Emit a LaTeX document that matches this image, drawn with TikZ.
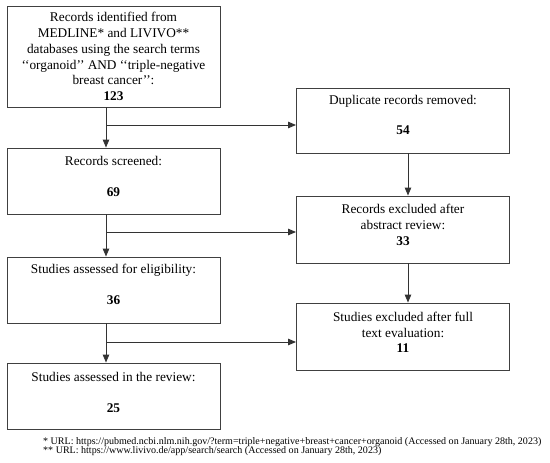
\documentclass[tikz,border=0pt]{standalone}
\usepackage{fontspec}
\setmainfont{Liberation Serif}
\usetikzlibrary{arrows.meta}
\newcommand{\dn}[1]{\rule[-#1]{0pt}{#1}}
\begin{document}
\begin{tikzpicture}[x=1pt,y=-1pt,
  box/.style={draw=black!75, line width=0.9pt, rectangle, minimum width=213pt, align=center, inner sep=0pt,
    font=\fontsize{13.3}{15.8}\selectfont},
  conn/.style={draw=black!80, line width=0.9pt},
  arr/.style={conn, -{Triangle[length=8pt,width=6.5pt]}},
  foot/.style={anchor=west, inner sep=0pt, font=\fontsize{10.05}{9.4}\selectfont, align=left}]
\useasboundingbox (0,0) rectangle (550,463);
\node[box, minimum height=101pt] (rec) at (113.5,56.5)
  {Records identified from\\MEDLINE* and LIVIVO**\\databases using the search terms\\`{}`organoid'{}' AND `{}`triple-negative\\breast cancer'{}':\\\textbf{123}};
\node[box, minimum height=65pt] (dup) at (403,120.5)
  {Duplicate records removed:\\[14pt]\textbf{54}\dn{11pt}};
\node[box, minimum height=66pt] (scr) at (113.5,181)
  {Records screened:\\[15pt]\textbf{69}\dn{9pt}};
\node[box, minimum height=67pt] (exa) at (403,229.5)
  {Records excluded after\\abstract review:\\\textbf{33}\dn{9pt}};
\node[box, minimum height=66pt] (eli) at (113.5,290)
  {Studies assessed for eligibility:\\[15pt]\textbf{36}\dn{11pt}};
\node[box, minimum height=67pt] (exf) at (403,336.5)
  {Studies excluded after full\\text evaluation:\\\textbf{11}\dn{8pt}};
\node[box, minimum height=66pt] (rev) at (113.5,396)
  {Studies assessed in the review:\\[15pt]\textbf{25}\dn{7pt}};
\node[foot] (fn) at (43,446.5)
  {* URL: https://pubmed.ncbi.nlm.nih.gov/?term=triple+negative+breast+cancer+organoid (Accessed on January 28th, 2023)\\
   ** URL: https://www.livivo.de/app/search/search (Accessed on January 28th, 2023)};
\coordinate (L) at (106,0);
\coordinate (R) at (408,0);
\coordinate (b1) at (106,125);
\coordinate (b2) at (106,232);
\coordinate (b3) at (106,342);
% left column
\draw[arr] (rec.south -| L) -- (scr.north -| L);
\draw[arr] (scr.south -| L) -- (eli.north -| L);
\draw[arr] (eli.south -| L) -- (rev.north -| L);
% branches
\draw[arr] (b1) -- (b1 -| dup.west);
\draw[arr] (b2) -- (b2 -| exa.west);
\draw[arr] (b3) -- (b3 -| exf.west);
% right column
\draw[arr] (dup.south -| R) -- (exa.north -| R);
\draw[arr] (exa.south -| R) -- (exf.north -| R);
\end{tikzpicture}
\end{document}
